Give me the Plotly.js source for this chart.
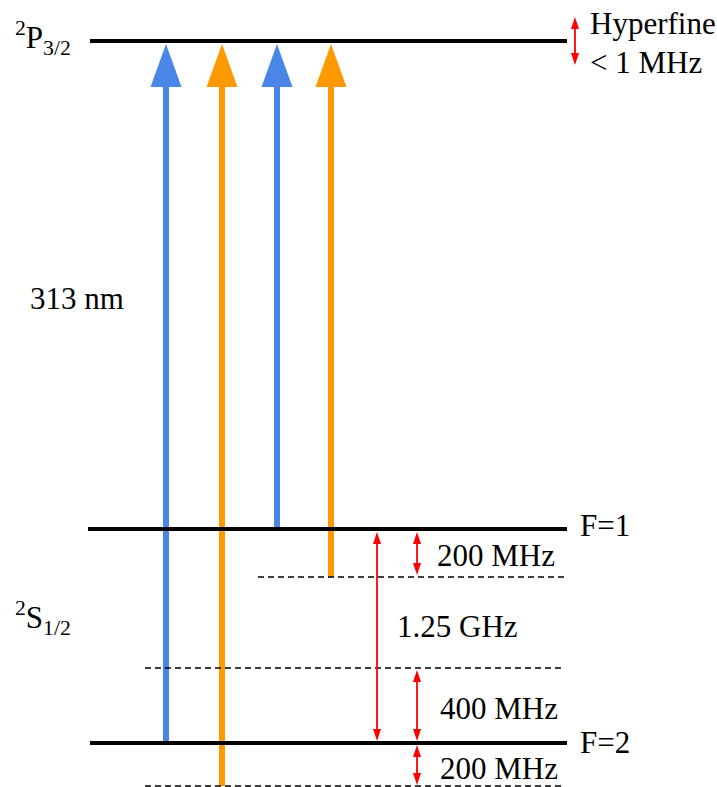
<!DOCTYPE html>
<html>
<head>
<meta charset="utf-8">
<script src="https://cdn.plot.ly/plotly-3.0.1.min.js"></script>
<style>html,body{margin:0;padding:0;background:#fff;}#chart{width:717px;height:787px;}</style>
</head>
<body>
<div id="chart"></div>
<script>
// ---- data (diagram units, y grows downward) ----
var levelNames = ["P3/2", "F=1", "F=2"];
var levelY     = [41, 529, 743];
var levelX0    = [90, 88, 90];
var levelX1    = [567, 567, 567];

var dashedY  = [577, 668, 786];
var dashedX0 = [258, 145, 145];
var dashedX1 = [565, 565, 565];

// laser transitions: x, start (lower) y, end (upper) y, colour
var arrowX      = [166, 222, 277, 331];
var arrowFromY  = [743, 786, 529, 577];
var arrowToY    = [44, 44, 44, 44];
var arrowColor  = ["#4A86E8", "#FF9900", "#4A86E8", "#FF9900"];

// red double-headed spacing arrows
var spanX  = [377, 417, 417, 417, 575];
var spanY0 = [532, 532, 670, 745, 17];
var spanY1 = [741, 575, 741, 785, 65];

// text labels
var labelText = ["<sup>2</sup>P<sub>3/2</sub>", "313 nm", "<sup>2</sup>S<sub>1/2</sub>",
                 "F=1", "F=2", "Hyperfine", "&lt; 1 MHz",
                 "200 MHz", "1.25 GHz", "400 MHz", "200 MHz"];
var labelX = [13, 28, 13, 578, 578, 588, 588, 435, 395, 438, 438];
var labelY = [38, 298, 618, 525, 742, 23, 62, 555, 626, 708, 768];

// ---- styles ----
var HEAD_W = 31, HEAD_H = 43, SHAFT_W = 6;
var RED_W = 8, RED_H = 12, RED_LINE = 1.8;
var FONT = "Liberation Serif, DejaVu Serif, serif";

var traces = [];
function tri(xc, tipY, baseY, w, color) {
  return {x: [xc - w / 2, xc + w / 2, xc, xc - w / 2], y: [baseY, baseY, tipY, baseY],
    mode: "lines", fill: "toself", fillcolor: color, line: {color: color, width: 0},
    hoverinfo: "skip", showlegend: false};
}
// laser arrows
for (var i = 0; i < arrowX.length; i++) {
  var base = arrowToY[i] + HEAD_H;
  traces.push({x: [arrowX[i], arrowX[i]], y: [arrowFromY[i], base - 1], mode: "lines",
    line: {color: arrowColor[i], width: SHAFT_W}, hoverinfo: "skip", showlegend: false});
  traces.push(tri(arrowX[i], arrowToY[i], base, HEAD_W, arrowColor[i]));
}
// dashed levels
for (var i = 0; i < dashedY.length; i++) {
  traces.push({x: [dashedX0[i], dashedX1[i]], y: [dashedY[i], dashedY[i]], mode: "lines",
    line: {color: "#000", width: 1.6, dash: "6px,4px"}, hoverinfo: "skip", showlegend: false});
}
// solid levels
for (var i = 0; i < levelY.length; i++) {
  traces.push({x: [levelX0[i], levelX1[i]], y: [levelY[i], levelY[i]], mode: "lines", name: levelNames[i],
    line: {color: "#000", width: 4}, hoverinfo: "skip", showlegend: false});
}
// red double arrows
for (var i = 0; i < spanX.length; i++) {
  traces.push({x: [spanX[i], spanX[i]], y: [spanY0[i] + RED_H - 1, spanY1[i] - RED_H + 1], mode: "lines",
    line: {color: "#FF0000", width: RED_LINE}, hoverinfo: "skip", showlegend: false});
  traces.push(tri(spanX[i], spanY0[i], spanY0[i] + RED_H, RED_W, "#FF0000"));
  traces.push(tri(spanX[i], spanY1[i], spanY1[i] - RED_H, RED_W, "#FF0000"));
}

var annotations = [];
for (var i = 0; i < labelText.length; i++) {
  annotations.push({x: labelX[i], y: labelY[i], xref: "x", yref: "y", text: labelText[i],
    showarrow: false, xanchor: "left", yanchor: "middle",
    font: {family: FONT, size: 31, color: "#000"}});
}

var layout = {
  width: 717, height: 787, margin: {l: 0, r: 0, t: 0, b: 0},
  paper_bgcolor: "#fff", plot_bgcolor: "#fff", showlegend: false,
  font: {family: FONT},
  xaxis: {range: [0, 717], visible: false, fixedrange: true},
  yaxis: {range: [787, 0], visible: false, fixedrange: true},
  annotations: annotations
};
Plotly.newPlot("chart", traces, layout, {staticPlot: true});
</script>
</body>
</html>
